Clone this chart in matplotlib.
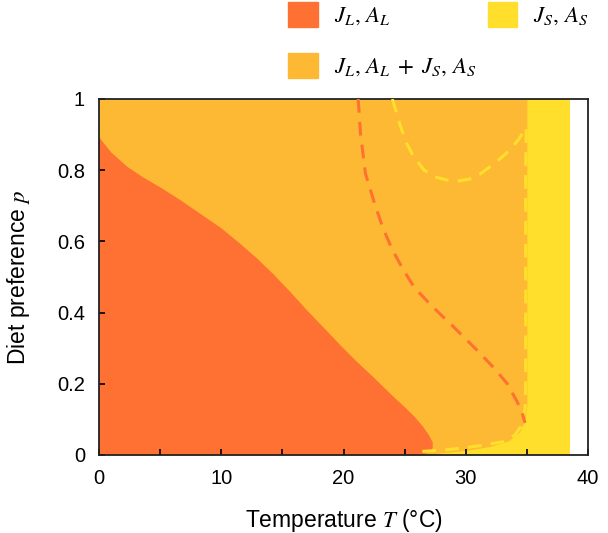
import matplotlib
matplotlib.use("Agg")
import matplotlib.pyplot as plt
from matplotlib.patches import Patch

plt.rcParams['font.family'] = ['Liberation Sans', 'DejaVu Sans']
plt.rcParams['mathtext.fontset'] = 'stix'

# colours of the three regimes
c_large = '#FF7132'
c_both = '#FDB933'
c_small = '#FFDF2B'

# boundary of the J_L,A_L region (T, p)
large_T = [0, 1.0, 2.3, 3.6, 5.1, 6.7, 8.4, 10.0, 11.5, 12.9, 14.2, 15.6, 17.0, 18.4, 19.7,
           21.0, 22.4, 23.3, 24.2, 25.0, 25.8, 26.5, 27.0, 27.3, 27.3, 27.1, 26.7, 26.0, 0]
large_p = [0.893, 0.85, 0.81, 0.78, 0.75, 0.715, 0.675, 0.637, 0.595, 0.553, 0.51, 0.46, 0.407, 0.357, 0.31,
           0.265, 0.22, 0.19, 0.16, 0.135, 0.108, 0.08, 0.055, 0.035, 0.02, 0.01, 0.004, 0.0, 0.0]

# lower edge of the coexistence region, right edge at T = 35
both_T = [0, 26.5, 28.0, 30.0, 32.0, 33.5, 34.4, 34.85, 35.0, 35.0]
both_p = [0, 0.0, 0.006, 0.013, 0.024, 0.04, 0.065, 0.1, 0.14, 1.0]

# J_S,A_S region extent
small_T = [24.5, 38.5]

# dashed curves
odash_T = [21.2, 21.3, 21.4, 21.6, 21.8, 22.2, 22.6, 23.2, 24.0, 24.9, 25.8, 27.3, 29.0,
           30.9, 32.3, 33.4, 34.2, 34.6, 34.85]
odash_p = [1.0, 0.95, 0.9, 0.845, 0.79, 0.745, 0.70, 0.64, 0.576, 0.52, 0.47, 0.416, 0.36,
           0.295, 0.245, 0.2, 0.15, 0.12, 0.09]
ydash_T = [24.0, 24.3, 24.6, 25.1, 25.7, 26.6, 27.6, 28.5, 29.4, 30.3, 31.2, 32.4, 33.4, 34.3, 34.95,
           34.9, 34.9, 34.9, 34.9, 34.9, 34.85, 34.6, 34.0, 33.0, 31.5, 30.1, 28.5, 27.3, 26.0]
ydash_p = [1.0, 0.965, 0.93, 0.88, 0.84, 0.80, 0.78, 0.772, 0.77, 0.775, 0.79, 0.82, 0.85, 0.885, 0.92,
           0.8, 0.6, 0.4, 0.3, 0.2, 0.13, 0.085, 0.055, 0.037, 0.028, 0.021, 0.015, 0.012, 0.009]

fig = plt.figure(figsize=(6.08, 5.33), dpi=100)
ax = fig.add_axes([99 / 608, 78 / 533, 489 / 608, 356 / 533])

ax.fill_between(small_T, 0, 1, color=c_small, lw=0)
ax.fill_between(both_T, both_p, 1, color=c_both, lw=0)
ax.fill(large_T, large_p, color=c_large, lw=0)

ax.plot(ydash_T, ydash_p, color=c_small, lw=2.2, dashes=(4.5, 3), zorder=3)
ax.plot(odash_T, odash_p, color=c_large, lw=2.2, dashes=(4.5, 3), zorder=3)

ax.set_xlim(0, 40)
ax.set_ylim(0, 1)
ax.set_xticks([0, 10, 20, 30, 40])
ax.set_xticks([5, 15, 25, 35], minor=True)
ax.set_yticks([0, 0.2, 0.4, 0.6, 0.8, 1.0])
ax.set_yticklabels(['0', '0.2', '0.4', '0.6', '0.8', '1'])
ax.tick_params(which='both', direction='in', length=4, width=1.2, labelsize=14.5, pad=10)
for s in ax.spines.values():
    s.set_linewidth(1.3)
    s.set_color('#222222')

ax.set_xlabel('Temperature $T$ (°C)', fontsize=16.5, labelpad=14)
ax.set_ylabel('Diet preference $p$', fontsize=16.5, labelpad=18)

handles = [Patch(color=c_large), Patch(color=c_both), Patch(color=c_small)]
labels = [r'$J_L,\,A_L$', r'$J_L,\,A_L\;+\;J_S,\,A_S$', r'$J_S,\,A_S$']
fig.legend(handles, labels, ncol=2, loc='upper left', bbox_to_anchor=(288 / 608, 1 - 2 / 533),
           frameon=False, fontsize=16.5, borderpad=0, borderaxespad=0, handlelength=1.3,
           handleheight=1.3, handletextpad=0.7, labelspacing=1.1, columnspacing=0.5)

fig.savefig('out.png', dpi=100)
